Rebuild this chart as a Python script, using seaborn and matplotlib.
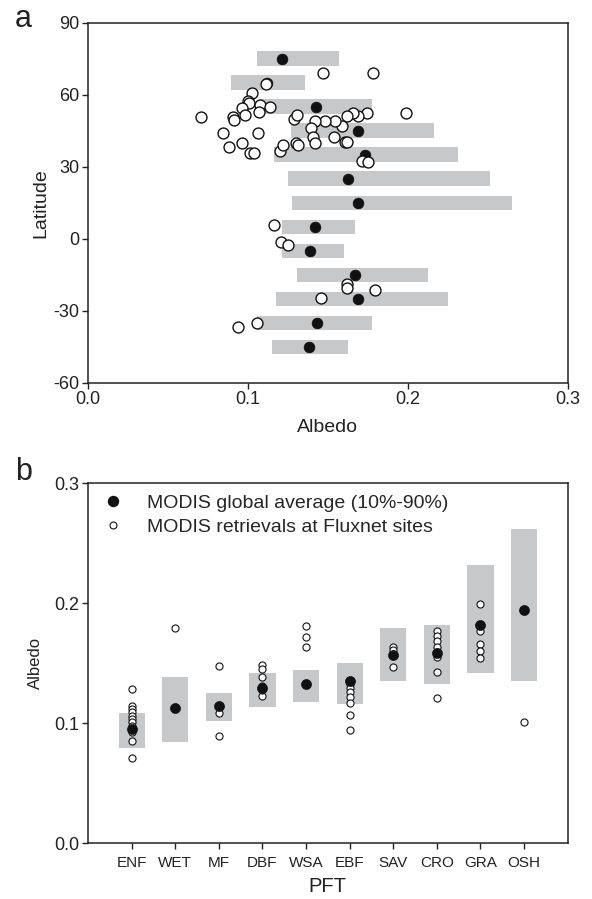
import numpy as np
import pandas as pd
import matplotlib
matplotlib.use("Agg")
import matplotlib.pyplot as plt
import seaborn as sns

# ---------------- Panel a data ----------------
lat_bands = [75, 65, 55, 45, 35, 25, 15, 5, -5, -15, -25, -35, -45]
band_lo = [0.1057, 0.0894, 0.1070, 0.1270, 0.1163, 0.1251, 0.1276, 0.1213, 0.1213, 0.1307, 0.1176, 0.1055, 0.1151]
band_hi = [0.1568, 0.1355, 0.1776, 0.2162, 0.2312, 0.2514, 0.2651, 0.1670, 0.1601, 0.2126, 0.2251, 0.1776, 0.1628]
band_mean = [0.1215, 0.1120, 0.1424, 0.1690, 0.1732, 0.1626, 0.1689, 0.1418, 0.1388, 0.1670, 0.1689, 0.1432, 0.1382]

site_albedo = [0.1472, 0.1784, 0.1111, 0.1026, 0.1000, 0.1008, 0.0961, 0.1076, 0.1136, 0.1071,
               0.0982, 0.0905, 0.0915, 0.0707, 0.0846, 0.1063, 0.0965, 0.0884, 0.1013, 0.1037,
               0.1201, 0.1217, 0.1288, 0.1305, 0.1299, 0.1315, 0.1987, 0.1743, 0.1687, 0.1659,
               0.1622, 0.1589, 0.1543, 0.1480, 0.1418, 0.1393, 0.1405, 0.1418, 0.1540, 0.1610,
               0.1622, 0.1711, 0.1753, 0.1161, 0.1205, 0.1251, 0.1620, 0.1620, 0.1455, 0.1795,
               0.1059, 0.0936]
site_lat = [69.2, 68.9, 64.5, 60.6, 57.2, 56.4, 54.6, 55.6, 54.7, 52.7,
            51.4, 50.7, 49.5, 50.8, 44.2, 44.2, 40.0, 38.2, 35.6, 35.6,
            36.5, 39.0, 49.7, 51.5, 39.7, 39.0, 52.4, 52.4, 51.3, 52.4,
            51.3, 47.0, 48.9, 49.0, 49.0, 46.3, 42.2, 39.7, 42.2, 40.4,
            40.4, 32.2, 32.0, 5.7, -1.25, -2.6, -19.0, -20.7, -24.6, -21.2,
            -35.1, -36.8]

# ---------------- Panel b data ----------------
pft = ['ENF', 'WET', 'MF', 'DBF', 'WSA', 'EBF', 'SAV', 'CRO', 'GRA', 'OSH']
pft_lo = [0.0797, 0.0847, 0.1022, 0.1139, 0.1180, 0.1164, 0.1356, 0.1330, 0.1419, 0.1356]
pft_hi = [0.1088, 0.1386, 0.1253, 0.1419, 0.1444, 0.1503, 0.1794, 0.1819, 0.2319, 0.2619]
pft_mean = [0.0953, 0.1128, 0.1147, 0.1292, 0.1328, 0.1353, 0.1567, 0.1586, 0.1817, 0.1947]

site_pft = (['ENF'] * 12 + ['WET'] + ['MF'] * 3 + ['DBF'] * 6 + ['WSA'] * 3 +
            ['EBF'] * 7 + ['SAV'] * 3 + ['CRO'] * 8 + ['GRA'] * 5 + ['OSH'])
site_val = [0.1290, 0.1147, 0.1119, 0.1092, 0.1064, 0.1036, 0.1008, 0.0980, 0.0953, 0.0925, 0.0853, 0.0714,
            0.1792,
            0.1480, 0.1083, 0.0892,
            0.1489, 0.1453, 0.1389, 0.1314, 0.1230, 0.1275,
            0.1808, 0.1719, 0.1636,
            0.1328, 0.1297, 0.1258, 0.1217, 0.1172, 0.1069, 0.0944,
            0.1639, 0.1610, 0.1467,
            0.1767, 0.1725, 0.1683, 0.1636, 0.1592, 0.1553, 0.1425, 0.1208,
            0.1994, 0.1769, 0.1664, 0.1600, 0.1547,
            0.1014]

# ---------------- Style ----------------
sns.set_theme(style="ticks")
plt.rcParams['font.family'] = ['Liberation Sans', 'DejaVu Sans']
plt.rcParams['axes.edgecolor'] = '#222222'
plt.rcParams['axes.linewidth'] = 1.1
plt.rcParams['xtick.color'] = '#222222'
plt.rcParams['ytick.color'] = '#222222'
plt.rcParams['xtick.major.size'] = 4
plt.rcParams['ytick.major.size'] = 4
plt.rcParams['xtick.major.width'] = 1.0
plt.rcParams['ytick.major.width'] = 1.0

GRAY = '#c7c8ca'
TXT = '#222222'

fig = plt.figure(figsize=(5.92, 8.99), dpi=100)
ax1 = fig.add_axes([88 / 592, 1 - 382.7 / 899, (567.7 - 88) / 592, 360 / 899])
ax2 = fig.add_axes([88 / 592, 1 - 843.3 / 899, (567.7 - 88) / 592, 360 / 899])

# ---------------- Panel a ----------------
band_df = pd.DataFrame({'lat': lat_bands, 'lo': band_lo, 'hi': band_hi, 'mean': band_mean})
band_df['width'] = band_df['hi'] - band_df['lo']
ax1.barh(band_df['lat'], band_df['width'], left=band_df['lo'], height=6.0,
         color=GRAY, edgecolor='none', zorder=1)
sns.scatterplot(data=band_df, x='mean', y='lat', ax=ax1, color='#111111', s=60,
                edgecolor='#111111', linewidth=0.5, zorder=3, legend=False)
site_df = pd.DataFrame({'albedo': site_albedo, 'lat': site_lat})
sns.scatterplot(data=site_df, x='albedo', y='lat', ax=ax1, facecolor='white', s=62,
                edgecolor='#111111', linewidth=1.0, zorder=4, legend=False)
ax1.set_xlim(0, 0.3)
ax1.set_ylim(-60, 90)
ax1.set_xticks([0.0, 0.1, 0.2, 0.3])
ax1.set_xticklabels(['0.0', '0.1', '0.2', '0.3'])
ax1.set_yticks([-60, -30, 0, 30, 60, 90])
ax1.set_yticklabels(['-60', '-30', '0', '30', '60', '90'])
ax1.tick_params(labelsize=13, colors=TXT, pad=2)
ax1.set_xlabel('Albedo', fontsize=14, color=TXT, labelpad=8)
ax1.set_ylabel('Latitude', fontsize=14, color=TXT, labelpad=3)
fig.text(15 / 592, 1 - 27 / 899, 'a', fontsize=22, color=TXT, ha='left', va='baseline')

# ---------------- Panel b ----------------
pos = {p: i for i, p in enumerate(pft)}
pft_df = pd.DataFrame({'pft': pft, 'lo': pft_lo, 'hi': pft_hi, 'mean': pft_mean})
pft_df['x'] = pft_df['pft'].map(pos)
pft_df['h'] = pft_df['hi'] - pft_df['lo']
ax2.bar(pft_df['x'], pft_df['h'], bottom=pft_df['lo'], width=0.6,
        color=GRAY, edgecolor='none', zorder=1)
sdf = pd.DataFrame({'pft': site_pft, 'albedo': site_val})
sdf['x'] = sdf['pft'].map(pos)
sns.scatterplot(data=sdf, x='x', y='albedo', ax=ax2, facecolor='white', s=26,
                edgecolor='#111111', linewidth=0.8, zorder=3, legend=False)
sns.scatterplot(data=pft_df, x='x', y='mean', ax=ax2, color='#111111', s=52,
                edgecolor='#111111', linewidth=0.5, zorder=4, legend=False)
ax2.set_xlim(-1, 10)
ax2.set_ylim(0, 0.3)
ax2.set_xticks(range(len(pft)))
ax2.set_xticklabels(pft)
ax2.set_yticks([0.0, 0.1, 0.2, 0.3])
ax2.set_yticklabels(['0.0', '0.1', '0.2', '0.3'])
ax2.tick_params(axis='y', labelsize=13, colors=TXT, pad=2)
ax2.tick_params(axis='x', labelsize=11, colors=TXT, pad=5)
ax2.set_xlabel('PFT', fontsize=14.5, color=TXT, labelpad=5)
ax2.set_ylabel('Albedo', fontsize=12, color=TXT, labelpad=8)
fig.text(15 / 592, 1 - 480 / 899, 'b', fontsize=22, color=TXT, ha='left', va='baseline')

h1 = plt.Line2D([], [], linestyle='none', marker='o', markersize=7.2,
                markerfacecolor='#111111', markeredgecolor='#111111')
h2 = plt.Line2D([], [], linestyle='none', marker='o', markersize=5,
                markerfacecolor='white', markeredgecolor='#111111', markeredgewidth=0.8)
ax2.legend([h1, h2], ['MODIS global average (10%-90%)', 'MODIS retrievals at Fluxnet sites'],
           loc='upper left', bbox_to_anchor=(0, 1.012), frameon=False, fontsize=14,
           handlelength=1.0, handletextpad=1.26, borderpad=0.786, borderaxespad=0,
           labelspacing=0.33)

for ax in (ax1, ax2):
    for s in ax.spines.values():
        s.set_visible(True)
        s.set_color('#222222')

fig.savefig('out.png', dpi=100)
